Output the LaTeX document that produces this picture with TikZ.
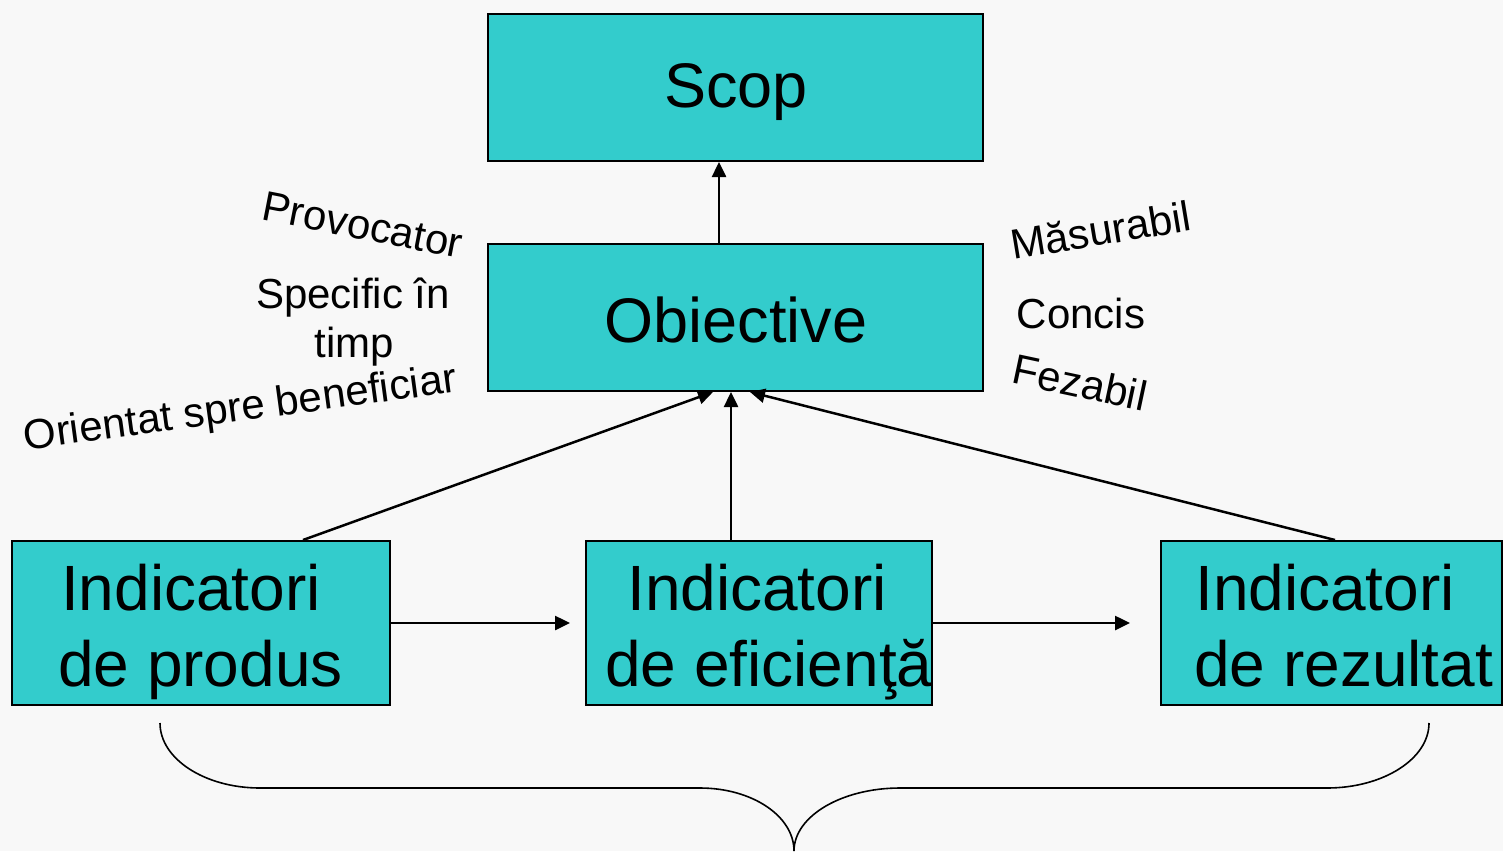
\documentclass[tikz,border=0pt]{standalone}
\usepackage{fontspec}
\setmainfont{Liberation Sans}
\usetikzlibrary{arrows.meta}
\definecolor{bg}{RGB}{248,248,248}
\definecolor{teal}{RGB}{51,204,204}
\tikzset{
  box/.style={draw=black, fill=teal, line width=2pt, inner sep=0pt},
  big/.style={inner sep=0pt, anchor=base, font=\fontsize{63}{76}\selectfont},
  ind/.style={inner sep=0pt, anchor=base west, font=\fontsize{64}{76}\selectfont},
  lbl/.style={inner sep=0pt, anchor=base, font=\fontsize{42}{50}\selectfont},
  arr/.style={line width=2.5pt, -{Triangle[length=15pt,width=14pt]}},
  brace/.style={line width=1.6pt}
}
\begin{document}
\begin{tikzpicture}[x=1pt,y=-1pt]
\fill[bg] (0,0) rectangle (1503,851);
\useasboundingbox (0,0) rectangle (1503,851);
% boxes
\node[box, minimum width=495pt, minimum height=147pt] (scop) at (735.5,87.5) {};
\node[box, minimum width=495pt, minimum height=147pt] (obj) at (735.5,317.5) {};
\node[box, minimum width=378pt, minimum height=164pt] (produs) at (201,623) {};
\node[box, minimum width=346pt, minimum height=164pt] (efic) at (759,623) {};
\node[box, minimum width=341pt, minimum height=164pt] (rez) at (1331.5,623) {};
% box texts
\node[big] (scopt) at (736,107) {Scop};
\node[big] (objt) at (736,342) {Obiective};
\node[ind] (produs1) at (61,610) {Indicatori};
\node[ind] (produs2) at (58,686) {de produs};
\node[ind] (efic1) at (627,610) {Indicatori};
\node[ind] (efic2) at (605,686) {de eficienţă};
\node[ind] (rez1) at (1195,610) {Indicatori};
\node[ind] (rez2) at (1194,686) {de rezultat};
% labels
\node[lbl, rotate=-11] (prov) at (360,239) {Provocator};
\node[lbl] (spec1) at (353,308) {Specific în};
\node[lbl] (spec2) at (354,357) {timp};
\node[lbl, rotate=7.7] (orient) at (242,421) {Orientat spre beneficiar};
\node[lbl, rotate=9.4] (masur) at (1103,245) {Măsurabil};
\node[lbl] (concis) at (1081,328) {Concis};
\node[lbl, rotate=-12] (fezabil) at (1077,397) {Fezabil};
% connectors
\draw[arr] ([xshift=-16.5pt]obj.north) -- ([xshift=-16.5pt]scop.south);
\draw[arr] ([xshift=102pt]produs.north) -- ([xshift=-22.5pt]obj.south);
\draw[arr] ([xshift=-28pt]efic.north) -- ([xshift=-4.5pt]obj.south);
\draw[arr] ([xshift=3.5pt]rez.north) -- ([xshift=14.5pt]obj.south);
\coordinate (h1) at (570,623);
\coordinate (h2) at (1130,623);
\draw[arr] (produs.east) -- (h1);
\draw[arr] (efic.east) -- (h2);
% brace
\draw[brace] (160,723) .. controls (160,759) and (205,788) .. (260,788)
  -- (700,788) .. controls (752,788) and (794,816) .. (794,851)
  .. controls (794,816) and (842,788) .. (900,788)
  -- (1327,788) .. controls (1383,788) and (1429,759) .. (1429,723);
\end{tikzpicture}
\end{document}
